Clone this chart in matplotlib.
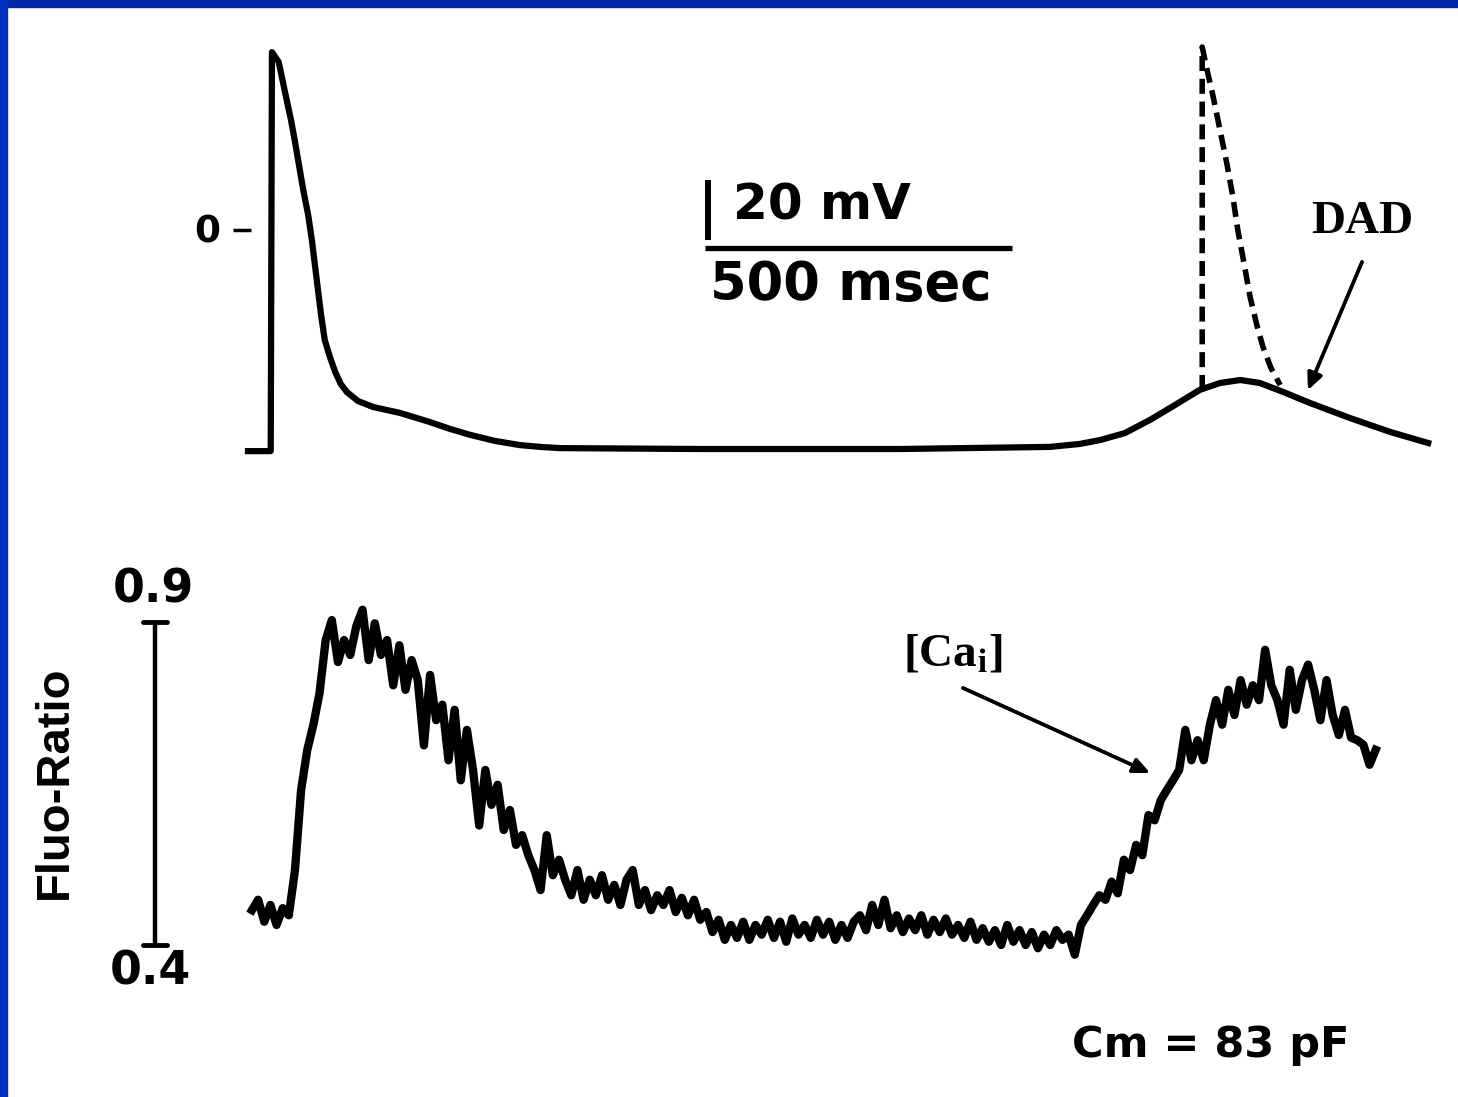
import numpy as np
import matplotlib
matplotlib.use("Agg")
import matplotlib.pyplot as plt
from matplotlib.patches import Rectangle

plt.rcParams['mathtext.fontset'] = 'stix'

# 1st step: data
# membrane potential trace (time in msec, voltage in mV)
ap_time = [0, 37, 39, 50, 62, 70, 76, 83, 90, 98, 104, 109, 114, 119, 125,
           134, 142, 151, 161, 179, 204, 248, 296, 329, 362, 402, 443, 476,
           508, 736, 1062, 1306, 1355, 1388, 1428, 1469, 1510, 1550, 1583,
           1616, 1648, 1686, 1730, 1795, 1860, 1922]
ap_mv = [-73.7, -73.7, 59.3, 56.0, 44.3, 36.7, 30.0, 21.7, 13.3, 5.0, -3.3,
         -11.7, -20.0, -28.3, -36.7, -42.7, -47.3, -51.3, -54.0, -57.0, -59.0,
         -61.0, -64.0, -66.3, -68.3, -70.3, -71.7, -72.3, -72.7, -73.0, -73.0,
         -72.3, -71.3, -70.0, -67.7, -63.3, -58.3, -53.3, -51.0, -50.0, -51.0,
         -54.0, -57.7, -62.7, -67.3, -71.0]

# triggered action potential (dashed)
trig_time = [1554, 1554, 1562, 1572, 1583, 1594, 1604, 1612, 1622, 1632, 1643,
             1653, 1666, 1681]
trig_mv = [-53.3, 61.0, 53.3, 44.3, 33.3, 22.3, 11.0, 0.0, -11.0, -22.3, -31.7,
           -39.0, -46.0, -51.7]

# Fluo ratio, sampled every 10 msec
fluo_t0 = 6.5
fluo_dt = 10
fluo_ratio = [
    0.454, 0.470, 0.436, 0.462, 0.431, 0.457, 0.446, 0.516, 0.640, 0.702,
    0.741, 0.790, 0.872, 0.903, 0.838, 0.872, 0.849, 0.894, 0.919, 0.841,
    0.898, 0.849, 0.872, 0.802, 0.864, 0.795, 0.841, 0.810, 0.709, 0.818,
    0.748, 0.772, 0.686, 0.764, 0.655, 0.733, 0.671, 0.585, 0.671, 0.617,
    0.648, 0.578, 0.609, 0.555, 0.570, 0.539, 0.516, 0.485, 0.570, 0.508,
    0.532, 0.501, 0.477, 0.516, 0.470, 0.501, 0.477, 0.508, 0.470, 0.493,
    0.462, 0.501, 0.516, 0.462, 0.485, 0.454, 0.477, 0.462, 0.485, 0.451,
    0.473, 0.446, 0.470, 0.439, 0.451, 0.420, 0.439, 0.408, 0.431, 0.411,
    0.436, 0.408, 0.431, 0.416, 0.439, 0.411, 0.436, 0.405, 0.441, 0.416,
    0.431, 0.411, 0.439, 0.416, 0.436, 0.408, 0.431, 0.411, 0.436, 0.446,
    0.423, 0.462, 0.431, 0.470, 0.426, 0.446, 0.420, 0.441, 0.423, 0.446,
    0.416, 0.439, 0.420, 0.441, 0.416, 0.431, 0.411, 0.436, 0.408, 0.426,
    0.405, 0.423, 0.400, 0.431, 0.405, 0.423, 0.400, 0.420, 0.395, 0.416,
    0.400, 0.423, 0.408, 0.416, 0.385, 0.431, 0.446, 0.462, 0.477, 0.470,
    0.498, 0.480, 0.532, 0.516, 0.555, 0.539, 0.601, 0.593, 0.624, 0.640,
    0.655, 0.671, 0.733, 0.686, 0.717, 0.686, 0.741, 0.779, 0.741, 0.795,
    0.756, 0.810, 0.772, 0.802, 0.779, 0.857, 0.802, 0.779, 0.741, 0.826,
    0.764, 0.810, 0.834, 0.795, 0.748, 0.810, 0.756, 0.725, 0.764, 0.721,
    0.717, 0.710, 0.679, 0.702]
fluo_time = fluo_t0 + fluo_dt * np.arange(len(fluo_ratio))

# scale bars
bar_mv = 20
bar_ms = 500
fluo_lo, fluo_hi = 0.4, 0.9


# 2nd step: set up the figure, two invisible axes stacked on each other
W, H = 1458, 1097
fig = plt.figure(figsize=(W / 100, H / 100), dpi=100)
fig.patch.set_facecolor('white')

xlim = (-403.9, 1970.6)
ax_v = fig.add_axes([0, 0, 1, 1])
ax_v.set_xlim(xlim)
ax_v.set_ylim(-289.0, 76.67)
ax_v.axis('off')

ax_f = fig.add_axes([0, 0, 1, 1])
ax_f.set_xlim(xlim)
ax_f.set_ylim(0.1647, 1.8628)
ax_f.axis('off')
ax_f.patch.set_alpha(0)


def fp(x, y):
    # pixel position (from top-left) -> figure fraction
    return x / W, 1 - y / H


# 3rd step: traces
ax_v.plot(ap_time, ap_mv, color='black', lw=4.5, solid_joinstyle='round')
ax_v.plot(trig_time, trig_mv, color='black', lw=4.0,
          linestyle=(0, (2.7, 1.4)), dash_capstyle='butt')
ax_f.plot(fluo_time, fluo_ratio, color='black', lw=6.0, solid_joinstyle='round')

# voltage scale bars + zero mark
ax_v.plot([749, 749], [-3.3, -3.3 + bar_mv], color='black', lw=4.3,
          solid_capstyle='butt')
ax_v.plot([744, 744 + bar_ms], [-6, -6], color='black', lw=3.8,
          solid_capstyle='butt')
ax_v.plot([-24, 5], [0, 0], color='black', lw=2.5, solid_capstyle='butt')

# fluo scale bar
ax_f.plot([-151.5, -151.5], [fluo_lo, fluo_hi], color='black', lw=3.2,
          solid_capstyle='butt')
for v in (fluo_lo, fluo_hi):
    ax_f.plot([-171, -132], [v, v], color='black', lw=3.5,
              solid_capstyle='round')


# 4th step: labels and annotations
bold_sans = dict(family='DejaVu Sans', weight='bold', color='black')
fig.text(*fp(207, 232), '0', fontsize=27, ha='center', va='center', **bold_sans)
fig.text(*fp(733, 205), '20 mV', fontsize=36, ha='left', va='center', **bold_sans)
fig.text(*fp(710, 285), '500 msec', fontsize=38, ha='left', va='center', **bold_sans)
fig.text(*fp(153, 590), '0.9', fontsize=33, ha='center', va='center', **bold_sans)
fig.text(*fp(150, 972), '0.4', fontsize=33, ha='center', va='center', **bold_sans)
fig.text(*fp(1211, 1045), 'Cm = 83 pF', fontsize=31, ha='center', va='center',
         **bold_sans)
fig.text(*fp(55, 782), 'Fluo-Ratio', fontsize=34, rotation=90, ha='center',
         va='center', family=['Liberation Sans Narrow', 'Liberation Sans'],
         weight='bold')

serif = dict(family='Liberation Serif', weight='bold', color='black')
fig.text(*fp(1362, 222), 'DAD', fontsize=34, ha='center', va='center', **serif)
fig.text(*fp(903, 666), r'[Ca$_\mathbf{i}$]', fontsize=34, ha='left',
         va='baseline', **serif)

arrow = dict(arrowstyle='-|>,head_length=1.0,head_width=0.45', color='black',
             lw=2.5, shrinkA=0, shrinkB=0)
fig.add_artist(plt.annotate('', xy=fp(1308, 390), xytext=fp(1362, 262),
                            xycoords='figure fraction',
                            textcoords='figure fraction', arrowprops=arrow))
fig.add_artist(plt.annotate('', xy=fp(1150, 773), xytext=fp(963, 688),
                            xycoords='figure fraction',
                            textcoords='figure fraction', arrowprops=arrow))

# blue slide frame (top and left edges)
fig.patches.append(Rectangle((0, 1 - 7 / H), 1, 7 / H, transform=fig.transFigure,
                             color='#0029a8', zorder=10))
fig.patches.append(Rectangle((0, 0), 7 / W, 1, transform=fig.transFigure,
                             color='#002fbf', zorder=10))

plt.savefig('out.png', dpi=100)
